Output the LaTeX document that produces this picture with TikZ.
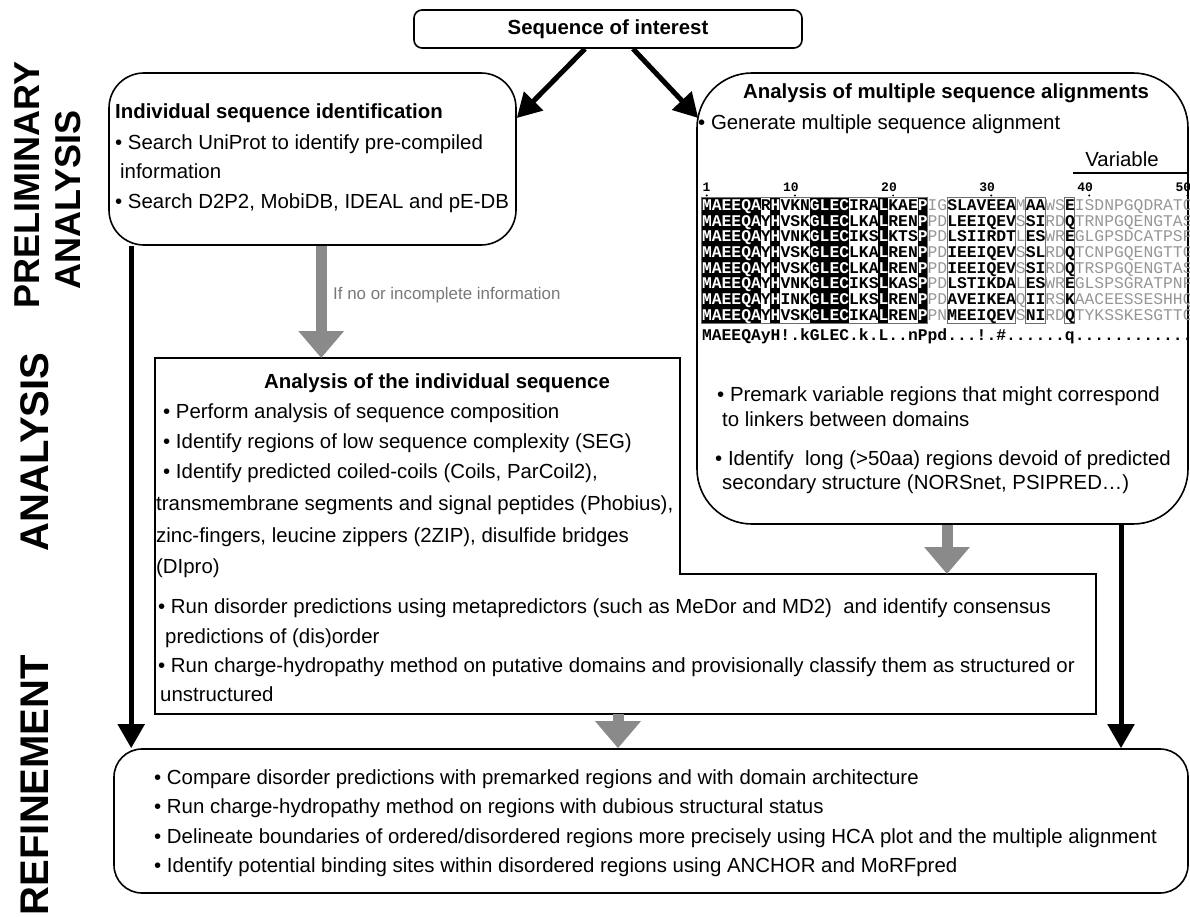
\documentclass[tikz,border=0pt]{standalone}
\usepackage{fontspec}
\setmainfont{Liberation Sans}
\setmonofont{Liberation Mono}
\usetikzlibrary{arrows.meta}
\definecolor{seqgray}{RGB}{150,150,150}
\definecolor{framegray}{RGB}{110,110,110}
\definecolor{arrowgray}{RGB}{138,138,138}
\definecolor{labelgray}{RGB}{120,120,120}
\newcommand\W[1]{\textcolor{white}{#1}}
\newcommand\G[1]{{\mdseries\textcolor{seqgray}{#1}}}
\begin{document}
\begin{tikzpicture}[x=1pt,y=-1pt,
  txt/.style={inner sep=0pt, anchor=base west, font=\fontsize{20.4}{24}\selectfont},
  ttl/.style={inner sep=0pt, anchor=base, font=\fontsize{20.4}{24}\selectfont\bfseries},
  side/.style={inner sep=0pt, rotate=90, font=\fontsize{40}{40}\selectfont\bfseries},
  sidesm/.style={side, font=\fontsize{36}{36}\selectfont\bfseries},
  box/.style={draw, line width=1.6pt},
  blk/.style={line width=5pt, -{Triangle[width=26pt,length=24pt]}},
  gry/.style={draw=arrowgray, line width=11pt, -{Triangle[width=44pt,length=27pt]}},
  alrow/.style={inner sep=0pt, anchor=base west, font=\fontsize{16.35}{16}\selectfont\ttfamily\bfseries},
  num/.style={inner sep=0pt, anchor=base east, font=\fontsize{13}{13}\selectfont\ttfamily\bfseries},
]
\useasboundingbox (0,0) rectangle (1190,917);

% side labels
\node[sidesm] (s1) at (27,185) {PRELIMINARY};
\node[sidesm] (s2) at (68,200) {ANALYSIS};
\node[side] (s3) at (35,452) {ANALYSIS};
\node[side] (s4) at (35,785) {REFINEMENT};

% boxes
\node[box, rounded corners=8pt, minimum width=388pt, minimum height=38pt, inner sep=0pt,
      font=\fontsize{20.4}{24}\selectfont\bfseries] (seq) at (608,29) {Sequence of interest};
\node[box, rounded corners=35pt, minimum width=407pt, minimum height=172pt] (lbox) at (312.5,159) {};
\node[box, rounded corners=55pt, minimum width=491pt, minimum height=451pt] (rbox) at (942.5,298.5) {};
\node[box, rounded corners=28pt, minimum width=1074pt, minimum height=144pt] (bbox) at (651,821) {};

\coordinate (mtl) at (155,358);
\coordinate (mtr) at (680,358);
\coordinate (mstep) at (680,574);
\coordinate (mer) at (1096,574);
\coordinate (mbr) at (1096,714);
\coordinate (mbl) at (155,714);
\draw[line width=1.4pt] (mtl) -- (mtr) -- (mstep) -- (mer) -- (mbr) -- (mbl) -- cycle;

% left box text
\node[txt, font=\fontsize{20.4}{24}\selectfont\bfseries] (l0) at (115,118.5) {Individual sequence identification};
\node[txt] (l1) at (115,149.5) {• Search UniProt to identify pre-compiled};
\node[txt] (l2) at (120,178.5) {information};
\node[txt] (l3) at (115,208.5) {• Search D2P2, MobiDB, IDEAL and pE-DB};

\node[txt, font=\fontsize{16.9}{20}\selectfont, text=labelgray] (lab) at (333,299) {If no or incomplete information};

% right box text
\node[ttl] (r0) at (946,98.5) {Analysis of multiple sequence alignments};
\node[txt] (r1) at (698,129.5) {• Generate multiple sequence alignment};
\node[txt, anchor=base] (var) at (1122,167) {Variable};
\draw[line width=1.2pt] (1073,173) -- (1187,173);

% alignment
\foreach \a/\b in {1/6,8/8,12/15,19/19,23/23}
  \fill ({701.8+(\a-1)*9.81},197.2) rectangle ({701.8+\b*9.81},322.9);
\foreach \a/\b in {1/23,26/32,34/35,38/38}
  \draw[framegray, line width=0.8pt] ({701.8+(\a-1)*9.81},197.2) rectangle ({701.8+\b*9.81},322.9);
\foreach \c/\t in {1/1,10/10,20/20,30/30,40/40,50/50}{
  \node[num] (n\t) at ({706.7+(\c-1)*9.81+3.9},192) {\t};
  \fill ({706.7+(\c-1)*9.81},195.5) circle (1.1pt);
}
\node[alrow] (a1) at (701.8,210.4) {\W{MAEEQA}R\W{H}VKN\W{GLEC}IRA\W{L}KAE\W{P}\G{IG}SLAVEEA\G{M}AA\G{WS}E\G{ISDNPGQDRATC}};
\node[alrow] (a2) at (701.8,226.1) {\W{MAEEQA}Y\W{H}VSK\W{GLEC}LKA\W{L}REN\W{P}\G{PD}LEEIQEV\G{S}SI\G{RD}Q\G{TRNPGQENGTAS}};
\node[alrow] (a3) at (701.8,241.8) {\W{MAEEQA}Y\W{H}VNK\W{GLEC}IKS\W{L}KTS\W{P}\G{PD}LSIIRDT\G{L}ES\G{WR}E\G{GLGPSDCATPSP}};
\node[alrow] (a4) at (701.8,257.5) {\W{MAEEQA}Y\W{H}VSK\W{GLEC}LKA\W{L}REN\W{P}\G{PD}IEEIQEV\G{S}SL\G{RD}Q\G{TCNPGQENGTTG}};
\node[alrow] (a5) at (701.8,273.2) {\W{MAEEQA}Y\W{H}VSK\W{GLEC}LKA\W{L}REN\W{P}\G{PD}IEEIQEV\G{S}SI\G{RD}Q\G{TRSPGQENGTAS}};
\node[alrow] (a6) at (701.8,288.9) {\W{MAEEQA}Y\W{H}VNK\W{GLEC}IKS\W{L}KAS\W{P}\G{PD}LSTIKDA\G{L}ES\G{WR}E\G{GLSPSGRATPNP}};
\node[alrow] (a7) at (701.8,304.6) {\W{MAEEQA}Y\W{H}INK\W{GLEC}LKS\W{L}REN\W{P}\G{PD}AVEIKEA\G{Q}II\G{RS}K\G{AACEESSESHHQ}};
\node[alrow] (a8) at (701.8,320.3) {\W{MAEEQA}Y\W{H}VSK\W{GLEC}IKA\W{L}REN\W{P}\G{PN}MEEIQEV\G{S}NI\G{RD}Q\G{TYKSSKESGTTG}};
\node[alrow] (cons) at (701.8,340.4) {MAEEQAyH!.kGLEC.k.L..nPpd...!.\#......q............};

\node[txt] (r2) at (717,401.5) {• Premark variable regions that might correspond};
\node[txt] (r3) at (722,426.5) {to linkers between domains};
\node[txt] (r4) at (715,465.5) {• Identify~ long (>50aa) regions devoid of predicted};
\node[txt] (r5) at (722,489.5) {secondary structure (NORSnet, PSIPRED…)};

% middle box text
\node[ttl] (m0) at (437,388.5) {Analysis of the individual sequence};
\node[txt] (m1) at (163,418.5) {• Perform analysis of sequence composition};
\node[txt] (m2) at (163,448.5) {• Identify regions of low sequence complexity (SEG)};
\node[txt] (m3) at (163,478.5) {• Identify predicted coiled-coils (Coils, ParCoil2),};
\node[txt] (m4) at (156,510.5) {transmembrane segments and signal peptides (Phobius),};
\node[txt] (m5) at (156,542.5) {zinc-fingers, leucine zippers (2ZIP), disulfide bridges};
\node[txt] (m6) at (156,573.5) {(DIpro)};
\node[txt] (m7) at (158,613.5) {• Run disorder predictions using metapredictors (such as MeDor and MD2)~ and identify consensus};
\node[txt] (m8) at (165,643.5) {predictions of (dis)order};
\node[txt] (m9) at (158,672.5) {• Run charge-hydropathy method on putative domains and provisionally classify them as structured or};
\node[txt] (m10) at (160,701.5) {unstructured};

% bottom box text
\node[txt] (b1) at (154,784.5) {• Compare disorder predictions with premarked regions and with domain architecture};
\node[txt] (b2) at (154,813.5) {• Run charge-hydropathy method on regions with dubious structural status};
\node[txt] (b3) at (154,843.5) {• Delineate boundaries of ordered/disordered regions more precisely using HCA plot and the multiple alignment};
\node[txt] (b4) at (154,872.5) {• Identify potential binding sites within disordered regions using ANCHOR and MoRFpred};

% connectors
\draw[blk] ([xshift=-23pt]seq.south) -- ([yshift=41pt]lbox.east);
\draw[blk] ([xshift=25pt]seq.south) -- ([xshift=2pt,yshift=180.5pt]rbox.west);
\draw[blk] ([xshift=23pt]lbox.south west) -- ([xshift=23pt]lbox.south west |- bbox.north);
\draw[blk] ([xshift=178.5pt]rbox.south) -- ([xshift=178.5pt]rbox.south |- bbox.north);
\draw[gry] ([xshift=213pt]lbox.south west) -- ([xshift=213pt]lbox.south west |- mtl);
\draw[gry] ([xshift=4.5pt]rbox.south) -- ([xshift=4.5pt]rbox.south |- mer);
\draw[gry] ([xshift=-33pt]bbox.north |- mbl) -- ([xshift=-33pt]bbox.north);
\end{tikzpicture}
\end{document}
